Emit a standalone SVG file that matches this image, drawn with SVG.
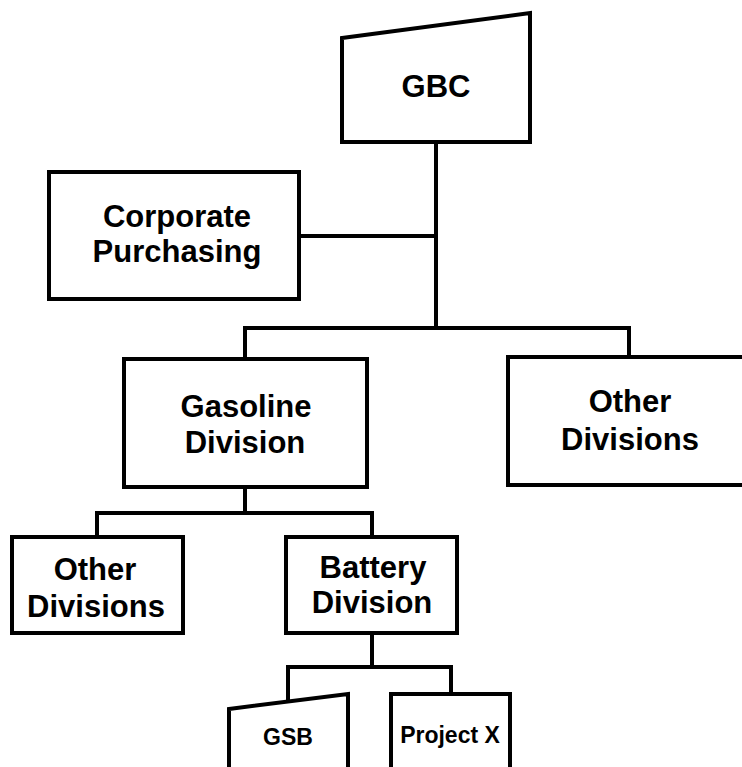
<svg xmlns="http://www.w3.org/2000/svg" width="742" height="767" viewBox="0 0 742 767">
  <style>
    .box { fill: #ffffff; stroke: #000000; stroke-width: 4; stroke-linejoin: miter; }
    .wire { fill: none; stroke: #000000; stroke-width: 4; stroke-linecap: square; }
    .lbl { font-family: "Liberation Sans", Arial, sans-serif; font-weight: bold; fill: #000000; text-anchor: middle; }
    .big { font-size: 31px; }
    .small { font-size: 23px; }
  </style>
  <rect width="742" height="767" fill="#ffffff"/>

  <!-- connectors -->
  <g id="connectors">
    <path class="wire" d="M436 142 V328"/>
    <path class="wire" d="M299 236 H436"/>
    <path class="wire" d="M245 328 H629"/>
    <path class="wire" d="M245 328 V359"/>
    <path class="wire" d="M629 328 V357"/>
    <path class="wire" d="M245 487 V513"/>
    <path class="wire" d="M97 513 H372"/>
    <path class="wire" d="M97 513 V537"/>
    <path class="wire" d="M372 513 V537"/>
    <path class="wire" d="M372 633 V667"/>
    <path class="wire" d="M288 667 H451"/>
    <path class="wire" d="M288 667 V701"/>
    <path class="wire" d="M451 667 V694"/>
  </g>

  <g id="gbc">
    <polygon class="box" points="342,38 530,13 530,142 342,142"/>
    <text class="lbl big" x="436" y="97">GBC</text>
  </g>

  <g id="corporate-purchasing">
    <rect class="box" x="49" y="172" width="250" height="127"/>
    <text class="lbl big" x="177" y="227">Corporate</text>
    <text class="lbl big" x="177" y="262">Purchasing</text>
  </g>

  <g id="gasoline-division">
    <rect class="box" x="124" y="359" width="243" height="128"/>
    <text class="lbl big" x="246" y="417">Gasoline</text>
    <text class="lbl big" x="245" y="453">Division</text>
  </g>

  <g id="other-divisions-upper">
    <rect class="box" x="508" y="357" width="252" height="128"/>
    <text class="lbl big" x="630" y="412">Other</text>
    <text class="lbl big" x="630" y="450">Divisions</text>
  </g>

  <g id="other-divisions-lower">
    <rect class="box" x="12" y="537" width="171" height="96"/>
    <text class="lbl big" x="95" y="580">Other</text>
    <text class="lbl big" x="96" y="617">Divisions</text>
  </g>

  <g id="battery-division">
    <rect class="box" x="286" y="537" width="171" height="96"/>
    <text class="lbl big" x="373" y="578">Battery</text>
    <text class="lbl big" x="372" y="613">Division</text>
  </g>

  <g id="gsb">
    <polygon class="box" points="229,709 348,694 348,790 229,790"/>
    <text class="lbl small" x="288" y="745">GSB</text>
  </g>

  <g id="project-x">
    <rect class="box" x="391" y="694" width="119" height="96"/>
    <text class="lbl small" x="450" y="743">Project X</text>
  </g>
</svg>
